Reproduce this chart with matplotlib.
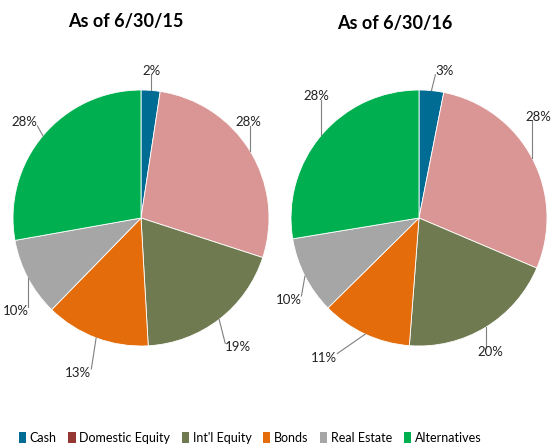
import numpy as np
import matplotlib
matplotlib.use("Agg")
import matplotlib.pyplot as plt
from matplotlib.patches import Patch

plt.rcParams['font.family'] = ['Lato', 'DejaVu Sans']

# data
categories = ["Cash", "Domestic Equity", "Int'l Equity", "Bonds", "Real Estate", "Alternatives"]
titles = ["As of 6/30/15", "As of 6/30/16"]
vals_15 = [2.4, 27.6, 19.1, 13.2, 9.9, 27.8]
vals_16 = [3.1, 28.3, 19.8, 11.4, 9.8, 27.6]
labels_15 = ["2%", "28%", "19%", "13%", "10%", "28%"]
labels_16 = ["3%", "28%", "20%", "11%", "10%", "28%"]

pie_colors = ["#006c94", "#d99694", "#6f7a50", "#e46c0a", "#a6a6a6", "#00b050"]
legend_colors = ["#006c94", "#953735", "#6f7a50", "#e46c0a", "#a6a6a6", "#00b050"]

# label spots, in pie radius units
lab_pos_15 = [(0.08, 1.15), (0.84, 0.75), (0.76, -1.01), (-0.49, -1.21), (-0.98, -0.73), (-0.91, 0.75)]
lab_pos_16 = [(0.20, 1.15), (0.93, 0.79), (0.56, -1.05), (-0.74, -1.09), (-1.02, -0.64), (-0.80, 0.95)]

W, H = 559, 448
fig = plt.figure(figsize=(W / 100, H / 100), dpi=100)

centers = [(141, 218), (419, 218)]
R = 128
sets = [(vals_15, labels_15, lab_pos_15), (vals_16, labels_16, lab_pos_16)]

axes = []
texts_all = []
for (cx, cy), (vals, labs, pos), title in zip(centers, sets, titles):
    ax = fig.add_axes([(cx - R) / W, (H - cy - R) / H, 2 * R / W, 2 * R / H])
    wedges, _ = ax.pie(vals, colors=pie_colors, startangle=90, counterclock=False,
                       radius=1, wedgeprops=dict(edgecolor='white', linewidth=0.6))
    ax.set_xlim(-1, 1)
    ax.set_ylim(-1, 1)
    ax.set_aspect('auto')
    ax.axis('off')
    txts = []
    for w, lab, (tx, ty) in zip(wedges, labs, pos):
        t = ax.text(tx, ty, lab, ha='center', va='center', fontsize=9.5, color='#222222', clip_on=False)
        ang = np.deg2rad((w.theta1 + w.theta2) / 2)
        txts.append((t, np.cos(ang), np.sin(ang)))
    axes.append(ax)
    texts_all.append(txts)

fig.text(126 / W, 1 - 21 / H, titles[0], ha='center', va='center', fontsize=13, fontweight='bold')
fig.text(395 / W, 1 - 23 / H, titles[1], ha='center', va='center', fontsize=13, fontweight='bold')

# leader lines: from the wedge's mid-angle edge to the nearest side of its label
fig.canvas.draw()
rend = fig.canvas.get_renderer()
for ax, txts in zip(axes, texts_all):
    inv = ax.transData.inverted()
    for t, px, py in txts:
        bb = t.get_window_extent(rend)
        (x0, y0), (x1, y1) = inv.transform([[bb.x0, bb.y0 + 2], [bb.x1, bb.y1 - 2]])
        nx = min(max(px, x0), x1)
        ny = min(max(py, y0), y1)
        ax.plot([px, nx], [py, ny], color='#7f7f7f', lw=0.8, clip_on=False)

handles = [Patch(facecolor=c, edgecolor='none') for c in legend_colors]
fig.legend(handles, categories, loc='center', bbox_to_anchor=(250 / W, 1 - 438 / H), ncol=6,
           frameon=False, fontsize=9, handlelength=0.6, handleheight=1.0,
           handletextpad=0.3, columnspacing=0.9)

fig.savefig("out.png", dpi=100)
